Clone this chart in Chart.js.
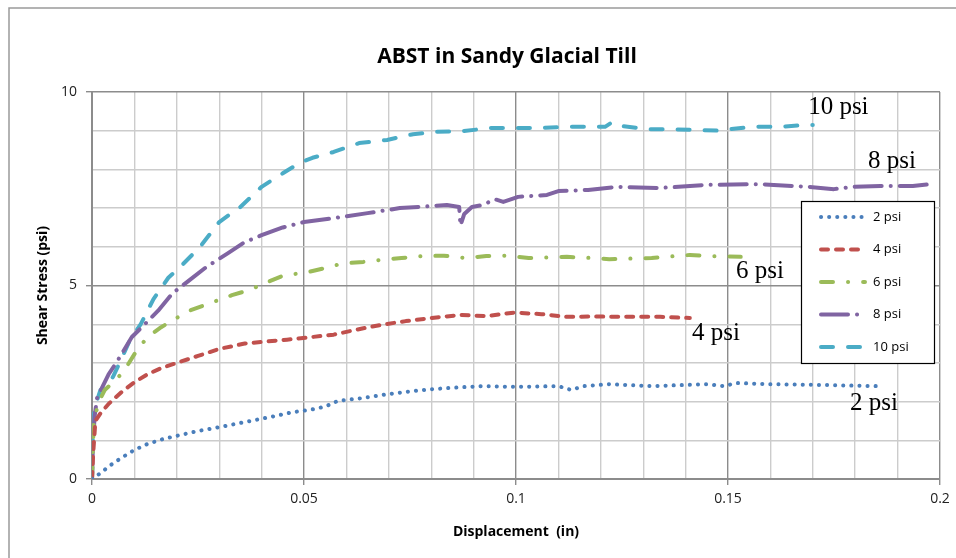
<!DOCTYPE html>
<html>
<head>
<meta charset="utf-8">
<script src="https://cdn.jsdelivr.net/npm/chart.js@4"></script>
<style>
  html, body { margin: 0; padding: 0; background: #fff; }
  #wrap { width: 956px; height: 558px; }
</style>
</head>
<body>
<div id="wrap"><canvas id="chart" width="956" height="558"></canvas></div>
<script>
// Displacement (in) and shear stress (psi) per normal stress
const disp2 = [0, 0.002, 0.004, 0.007, 0.010, 0.013, 0.017, 0.021, 0.025, 0.030, 0.036, 0.042, 0.047, 0.052, 0.055, 0.058, 0.063, 0.069, 0.074, 0.080, 0.087, 0.092, 0.100, 0.110, 0.113, 0.116, 0.122, 0.126, 0.132, 0.140, 0.145, 0.149, 0.152, 0.160, 0.172, 0.185];
const stress2 = [0, 0.15, 0.33, 0.55, 0.75, 0.9, 1.04, 1.14, 1.24, 1.34, 1.47, 1.6, 1.72, 1.8, 1.87, 2.02, 2.08, 2.18, 2.25, 2.32, 2.37, 2.4, 2.38, 2.4, 2.3, 2.4, 2.45, 2.43, 2.4, 2.43, 2.45, 2.4, 2.48, 2.45, 2.43, 2.4];

const disp4 = [0, 0.0003, 0.0008, 0.002, 0.004, 0.007, 0.010, 0.013, 0.016, 0.020, 0.025, 0.030, 0.036, 0.041, 0.046, 0.052, 0.057, 0.062, 0.068, 0.074, 0.080, 0.087, 0.093, 0.0995, 0.106, 0.112, 0.118, 0.125, 0.134, 0.141];
const stress4 = [0, 0.7, 1.5, 1.7, 1.95, 2.25, 2.5, 2.7, 2.85, 3.0, 3.18, 3.36, 3.5, 3.55, 3.6, 3.67, 3.73, 3.85, 3.98, 4.08, 4.16, 4.24, 4.21, 4.3, 4.26, 4.19, 4.2, 4.19, 4.19, 4.16];

const disp6 = [0, 0.0004, 0.0014, 0.003, 0.005, 0.0075, 0.009, 0.011, 0.0135, 0.016, 0.019, 0.023, 0.028, 0.033, 0.037, 0.041, 0.045, 0.051, 0.055, 0.059, 0.064, 0.068, 0.073, 0.078, 0.083, 0.088, 0.093, 0.098, 0.103, 0.112, 0.118, 0.122, 0.132, 0.141, 0.146, 0.153];
const stress6 = [0, 1.4, 1.95, 2.3, 2.5, 2.78, 3.05, 3.4, 3.7, 3.9, 4.1, 4.35, 4.55, 4.75, 4.88, 5.07, 5.25, 5.35, 5.45, 5.57, 5.61, 5.66, 5.71, 5.76, 5.77, 5.71, 5.76, 5.77, 5.71, 5.74, 5.71, 5.68, 5.71, 5.79, 5.76, 5.74];

const disp8 = [0, 0.0002, 0.0006, 0.0012, 0.004, 0.006, 0.0094, 0.012, 0.0156, 0.019, 0.023, 0.027, 0.032, 0.036, 0.040, 0.045, 0.050, 0.057, 0.065, 0.0726, 0.0837, 0.0866, 0.0869, 0.0878, 0.0896, 0.0922, 0.095, 0.097, 0.1005, 0.1073, 0.110, 0.117, 0.124, 0.134, 0.145, 0.1575, 0.169, 0.175, 0.1795, 0.186, 0.1936, 0.198];
const stress8 = [0, 0.8, 1.6, 2.1, 2.72, 3.05, 3.67, 3.95, 4.35, 4.8, 5.14, 5.48, 5.83, 6.12, 6.3, 6.5, 6.64, 6.74, 6.87, 7.0, 7.08, 7.03, 6.55, 6.85, 7.03, 7.08, 7.23, 7.16, 7.29, 7.34, 7.44, 7.47, 7.55, 7.52, 7.6, 7.62, 7.55, 7.49, 7.55, 7.57, 7.57, 7.62];

const disp10 = [0, 0.0002, 0.0005, 0.002, 0.0035, 0.005, 0.0065, 0.009, 0.0115, 0.0145, 0.018, 0.0208, 0.0255, 0.030, 0.035, 0.040, 0.045, 0.049, 0.052, 0.057, 0.063, 0.0696, 0.0757, 0.081, 0.0875, 0.094, 0.100, 0.1057, 0.112, 0.1175, 0.121, 0.1227, 0.125, 0.131, 0.136, 0.1427, 0.148, 0.1505, 0.156, 0.162, 0.1687, 0.170];
const stress10 = [0, 1.0, 1.8, 2.3, 2.4, 2.65, 3.0, 3.6, 4.0, 4.65, 5.2, 5.48, 6.0, 6.64, 7.03, 7.55, 7.9, 8.17, 8.3, 8.45, 8.68, 8.76, 8.91, 8.97, 8.99, 9.07, 9.07, 9.07, 9.1, 9.1, 9.1, 9.22, 9.12, 9.04, 9.04, 9.02, 9.0, 9.04, 9.1, 9.1, 9.15, 9.15];

const seriesNames = ['2 psi', '4 psi', '6 psi', '8 psi', '10 psi'];

// curve labels written on the plot: [text, displacement, stress at baseline]
const curveLabels = [
  ['10 psi', 0.1689, 9.43],
  ['8 psi', 0.1830, 8.04],
  ['6 psi', 0.1519, 5.19],
  ['4 psi', 0.1415, 3.59],
  ['2 psi', 0.1788, 1.78]
];

const pts = (xs, ys) => xs.map((x, i) => ({ x: x, y: ys[i] }));

const styles = [
  { color: '#4a7ebb', dash: [0.1, 8], width: 4 },
  { color: '#c0504d', dash: [7, 8], width: 4 },
  { color: '#9bbb59', dash: [12, 15, 0.1, 15], width: 4 },
  { color: '#8064a2', dash: [27, 9, 0.1, 9], width: 4 },
  { color: '#4bacc6', dash: [12, 15], width: 4 }
];

const allData = [pts(disp2, stress2), pts(disp4, stress4), pts(disp6, stress6), pts(disp8, stress8), pts(disp10, stress10)];

const datasets = allData.map((d, i) => ({
  label: seriesNames[i],
  data: d,
  borderColor: styles[i].color,
  backgroundColor: styles[i].color,
  borderWidth: styles[i].width,
  borderDash: styles[i].dash,
  borderCapStyle: 'round',
  borderJoinStyle: 'round',
  pointRadius: 0,
  fill: false,
  tension: 0
}));

const isMajorX = v => Math.round(v * 100) % 5 === 0;
const isMajorY = v => Math.round(v) % 5 === 0;

const decor = {
  id: 'decor',
  beforeDraw(chart) {
    const ctx = chart.ctx;
    ctx.save();
    ctx.fillStyle = '#fff';
    ctx.fillRect(0, 0, chart.width, chart.height);
    ctx.strokeStyle = '#9a9a9a';
    ctx.lineWidth = 1.5;
    ctx.beginPath();
    ctx.moveTo(9, chart.height);
    ctx.lineTo(9, 8);
    ctx.lineTo(chart.width, 8);
    ctx.stroke();
    ctx.restore();
  },
  afterDraw(chart) {
    const ctx = chart.ctx;
    const xs = chart.scales.x, ys = chart.scales.y;
    ctx.save();
    // title
    ctx.fillStyle = '#000';
    ctx.font = 'bold 21px "Open Sans"';
    ctx.textAlign = 'center';
    ctx.textBaseline = 'middle';
    ctx.fillText('ABST in Sandy Glacial Till', 507, 57);

    // curve labels
    ctx.font = '25px "Liberation Serif"';
    ctx.textAlign = 'left';
    ctx.textBaseline = 'alphabetic';
    curveLabels.forEach(l => {
      ctx.fillText(l[0], xs.getPixelForValue(l[1]), ys.getPixelForValue(l[2]));
    });

    // legend
    const lx = 801, ly = 201, lw = 133, lh = 162;
    ctx.fillStyle = '#fff';
    ctx.fillRect(lx, ly, lw, lh);
    ctx.strokeStyle = '#000';
    ctx.lineWidth = 1.2;
    ctx.strokeRect(lx + 0.5, ly + 0.5, lw, lh);
    chart.data.datasets.forEach((ds, i) => {
      const y = ly + 16 + i * 32.5;
      ctx.save();
      ctx.beginPath();
      ctx.rect(lx + 16, y - 6, 50, 12);
      ctx.clip();
      ctx.strokeStyle = ds.borderColor;
      ctx.lineWidth = ds.borderWidth;
      ctx.lineCap = 'round';
      ctx.setLineDash(ds.borderDash);
      ctx.beginPath();
      ctx.moveTo(lx + 20, y);
      ctx.lineTo(lx + 64, y);
      ctx.stroke();
      ctx.restore();
      ctx.fillStyle = '#000';
      ctx.font = '13px "Open Sans"';
      ctx.textBaseline = 'middle';
      ctx.fillText(ds.label, lx + 72, y);
    });
    ctx.restore();
  }
};

new Chart(document.getElementById('chart'), {
  type: 'line',
  data: { datasets: datasets },
  plugins: [decor],
  options: {
    responsive: false,
    animation: false,
    devicePixelRatio: 1,
    layout: { padding: { top: 92, right: 16, left: 0, bottom: 0 } },
    plugins: {
      legend: { display: false },
      title: { display: false },
      tooltip: { enabled: false }
    },
    scales: {
      x: {
        type: 'linear',
        min: 0,
        max: 0.2,
        afterFit: s => { s.height = 79; },
        ticks: {
          stepSize: 0.01,
          autoSkip: false,
          maxRotation: 0,
          padding: 6,
          color: '#222',
          font: { family: 'Open Sans', size: 14 },
          callback: v => isMajorX(v) ? String(Math.round(v * 100) / 100) : ''
        },
        grid: {
          color: c => isMajorX(c.tick.value) ? '#8c8c8c' : '#cccccc',
          tickColor: c => isMajorX(c.tick.value) ? '#8c8c8c' : 'rgba(0,0,0,0)',
          tickLength: 6,
          lineWidth: 1.4
        },
        border: { color: '#8c8c8c', width: 2 },
        title: {
          display: true,
          text: 'Displacement  (in)',
          color: '#000',
          font: { family: 'Open Sans', size: 14, weight: 'bold' },
          padding: { top: 0, bottom: 18 }
        }
      },
      y: {
        min: 0,
        max: 10,
        afterFit: s => { s.width = 92; },
        ticks: {
          stepSize: 1,
          autoSkip: false,
          padding: 9,
          color: '#222',
          font: { family: 'Open Sans', size: 14 },
          callback: v => isMajorY(v) ? String(v) : ''
        },
        grid: {
          color: c => isMajorY(c.tick.value) ? '#8c8c8c' : '#cccccc',
          tickColor: c => isMajorY(c.tick.value) ? '#8c8c8c' : 'rgba(0,0,0,0)',
          tickLength: 6,
          lineWidth: 1.4
        },
        border: { color: '#8c8c8c', width: 2 },
        title: {
          display: true,
          text: 'Shear Stress (psi)',
          color: '#000',
          font: { family: 'Open Sans', size: 14, weight: 'bold' },
          padding: { top: 35, bottom: 0 }
        }
      }
    }
  }
});
</script>
</body>
</html>
